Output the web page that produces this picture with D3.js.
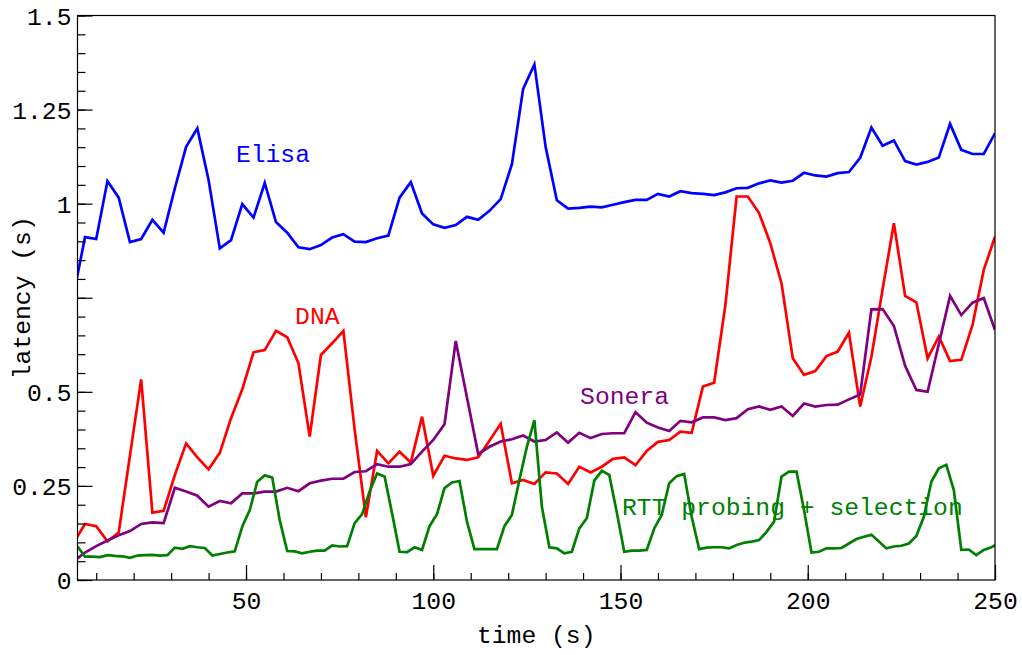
<!DOCTYPE html>
<html>
<head>
<meta charset="utf-8">
<script src="https://cdn.jsdelivr.net/npm/d3@7"></script>
<style>
  body { margin: 0; background: #fff; }
  text { font-family: "Liberation Mono", monospace; }
</style>
</head>
<body>
<script>
const w = 1022;
const h = 655;

// samples every 3 s for Elisa, DNA, Sonera; every 2 s for the RTT scheme
const t3 = d3.range(4, 251, 3);
const t2 = d3.range(5, 252, 2);

const elisa = [0.76, 0.911, 0.906, 1.060, 1.016, 0.898, 0.906, 0.957, 0.923, 1.041,
  1.151, 1.200, 1.063, 0.881, 0.903, 0.999, 0.963, 1.055, 0.951, 0.923,
  0.884, 0.879, 0.890, 0.910, 0.919, 0.899, 0.898, 0.908, 0.915, 1.016,
  1.057, 0.974, 0.945, 0.936, 0.943, 0.965, 0.957, 0.981, 1.012, 1.105,
  1.305, 1.370, 1.151, 1.009, 0.987, 0.989, 0.992, 0.990, 0.997, 1.004,
  1.010, 1.010, 1.026, 1.019, 1.033, 1.028, 1.026, 1.023, 1.030, 1.041,
  1.042, 1.054, 1.062, 1.056, 1.061, 1.082, 1.075, 1.072, 1.081, 1.084,
  1.122, 1.202, 1.154, 1.168, 1.113, 1.104, 1.111, 1.123, 1.212, 1.143,
  1.132, 1.132, 1.187];

const dna = [0.10, 0.149, 0.143, 0.103, 0.126, 0.330, 0.533, 0.179, 0.184, 0.279,
  0.363, 0.326, 0.294, 0.338, 0.430, 0.507, 0.605, 0.611, 0.662, 0.645,
  0.576, 0.381, 0.598, 0.629, 0.662, 0.400, 0.167, 0.343, 0.310, 0.341,
  0.312, 0.434, 0.277, 0.330, 0.323, 0.319, 0.326, 0.370, 0.415, 0.257,
  0.266, 0.255, 0.286, 0.283, 0.255, 0.301, 0.286, 0.301, 0.322, 0.326,
  0.305, 0.343, 0.367, 0.372, 0.394, 0.391, 0.514, 0.524, 0.73, 1.019,
  1.019, 0.975, 0.895, 0.788, 0.589, 0.545, 0.555, 0.595, 0.607, 0.657,
  0.461, 0.593, 0.773, 0.948, 0.755, 0.738, 0.589, 0.647, 0.582, 0.585,
  0.678, 0.824, 0.912];

const sonera = [0.05, 0.073, 0.090, 0.105, 0.119, 0.130, 0.149, 0.153, 0.151, 0.245,
  0.235, 0.224, 0.195, 0.210, 0.204, 0.230, 0.230, 0.235, 0.235, 0.245,
  0.236, 0.257, 0.264, 0.269, 0.269, 0.287, 0.289, 0.308, 0.301, 0.301,
  0.308, 0.341, 0.372, 0.414, 0.635, 0.485, 0.335, 0.354, 0.368, 0.374,
  0.384, 0.368, 0.372, 0.392, 0.365, 0.391, 0.377, 0.388, 0.390, 0.390,
  0.446, 0.418, 0.405, 0.396, 0.423, 0.419, 0.432, 0.432, 0.425, 0.430,
  0.454, 0.461, 0.452, 0.461, 0.436, 0.469, 0.461, 0.465, 0.466, 0.480,
  0.493, 0.719, 0.720, 0.675, 0.569, 0.505, 0.500, 0.627, 0.755, 0.704,
  0.737, 0.749, 0.664];

const rtt = [0.089, 0.062, 0.062, 0.061, 0.066, 0.064, 0.063, 0.059, 0.065, 0.066,
  0.067, 0.065, 0.066, 0.086, 0.083, 0.090, 0.087, 0.085, 0.065, 0.069,
  0.073, 0.076, 0.142, 0.186, 0.261, 0.278, 0.272, 0.159, 0.077, 0.076,
  0.071, 0.075, 0.078, 0.078, 0.092, 0.089, 0.090, 0.151, 0.175, 0.235,
  0.283, 0.275, 0.177, 0.075, 0.074, 0.087, 0.080, 0.143, 0.175, 0.244,
  0.259, 0.263, 0.155, 0.082, 0.082, 0.082, 0.082, 0.143, 0.173, 0.266,
  0.354, 0.425, 0.195, 0.087, 0.084, 0.071, 0.075, 0.137, 0.164, 0.264,
  0.290, 0.279, 0.18, 0.075, 0.078, 0.078, 0.080, 0.137, 0.173, 0.257,
  0.276, 0.282, 0.168, 0.082, 0.086, 0.087, 0.087, 0.084, 0.093, 0.099,
  0.102, 0.106, 0.128, 0.155, 0.275, 0.288, 0.288, 0.186, 0.073, 0.075,
  0.084, 0.084, 0.085, 0.097, 0.109, 0.115, 0.120, 0.102, 0.084, 0.089,
  0.091, 0.097, 0.117, 0.168, 0.261, 0.297, 0.306, 0.239, 0.080, 0.081,
  0.066, 0.080, 0.087, 0.097];

const series = [
  { name: "Elisa",  t: t3, v: elisa,  color: "#0000ff", lx: 47.3,  ly: 1.111 },
  { name: "DNA",    t: t3, v: dna,    color: "#ff0000", lx: 63.1,  ly: 0.680 },
  { name: "Sonera", t: t3, v: sonera, color: "#800080", lx: 139.2, ly: 0.468 },
  { name: "RTT probing + selection", t: t2, v: rtt, color: "#008000", lx: 150.4, ly: 0.173 }
];

const xMajor = [50, 100, 150, 200, 250];
const xMinor = d3.range(10, 251, 10);
const yMajor = [0, 0.25, 0.5, 0.75, 1, 1.25, 1.5];
const yMinor = d3.range(0, 1.5001, 0.05);
const yLabels = { 0: "0", 0.25: "0.25", 0.5: "0.5", 0.75: "", 1: "1", 1.25: "1.25", 1.5: "1.5" };

const pLeft = 77.5, pRight = 995, pTop = 15.5, pBottom = 580;
const fontSize = "24.7px";

const svg = d3.select("body")
              .append("svg")
              .attr("width", w)
              .attr("height", h);

const xScale = d3.scaleLinear()
                .domain([5, 250])
                .range([pLeft, pRight]);

const yScale = d3.scaleLinear()
                .domain([0, 1.5])
                .range([pBottom, pTop]);

svg.append("clipPath")
    .attr("id", "plot")
  .append("rect")
    .attr("x", pLeft)
    .attr("y", pTop)
    .attr("width", pRight - pLeft)
    .attr("height", pBottom - pTop);

// lines
const line = d3.line()
    .x(d => xScale(d[0]))
    .y(d => yScale(d[1]));

svg.append("g")
    .attr("clip-path", "url(#plot)")
  .selectAll("path")
  .data(series)
  .enter()
  .append("path")
    .attr("d", s => line(s.t.map((t, i) => [t, s.v[i]])))
    .attr("fill", "none")
    .attr("stroke", s => s.color)
    .attr("stroke-width", 2.7)
    .attr("stroke-linejoin", "miter");

// axes, ticks point inward
svg.append("g")
    .attr("transform", "translate(0," + pBottom + ")")
    .call(d3.axisBottom(xScale).tickValues(xMinor).tickSize(-7).tickFormat(""));

const xAxis = svg.append("g")
    .attr("transform", "translate(0," + pBottom + ")")
    .call(d3.axisBottom(xScale).tickValues(xMajor).tickSize(-15).tickPadding(0));

xAxis.selectAll("text").attr("dy", null).attr("y", 28.5);

svg.append("g")
    .attr("transform", "translate(" + pLeft + ",0)")
    .call(d3.axisLeft(yScale).tickValues(yMinor).tickSize(-8).tickFormat(""));

const yAxis = svg.append("g")
    .attr("transform", "translate(" + pLeft + ",0)")
    .call(d3.axisLeft(yScale).tickValues(yMajor).tickSize(-15).tickPadding(6)
            .tickFormat(d => yLabels[d]));

yAxis.selectAll("text").attr("dy", "0.35em");

svg.selectAll(".domain").remove();
svg.selectAll(".tick line").attr("stroke", "#000").attr("stroke-width", 1.2);
svg.selectAll(".tick text")
    .attr("fill", "#000")
    .style("font-family", "'Liberation Mono', monospace")
    .style("font-size", fontSize);

// frame
svg.append("rect")
    .attr("x", pLeft)
    .attr("y", pTop)
    .attr("width", pRight - pLeft)
    .attr("height", pBottom - pTop)
    .attr("fill", "none")
    .attr("stroke", "#000")
    .attr("stroke-width", 1.2);

// series labels
svg.selectAll(".lab")
    .data(series)
    .enter()
    .append("text")
    .attr("class", "lab")
    .attr("x", s => xScale(s.lx))
    .attr("y", s => yScale(s.ly))
    .attr("fill", s => s.color)
    .style("font-size", fontSize)
    .text(s => s.name);

// axis titles
svg.append("text")
    .attr("x", (pLeft + pRight) / 2)
    .attr("y", 643)
    .attr("text-anchor", "middle")
    .style("font-size", fontSize)
    .text("time (s)");

svg.append("text")
    .attr("transform", "translate(30," + ((pTop + pBottom) / 2) + ") rotate(-90)")
    .attr("text-anchor", "middle")
    .style("font-size", fontSize)
    .text("latency (s)");
</script>
</body>
</html>
